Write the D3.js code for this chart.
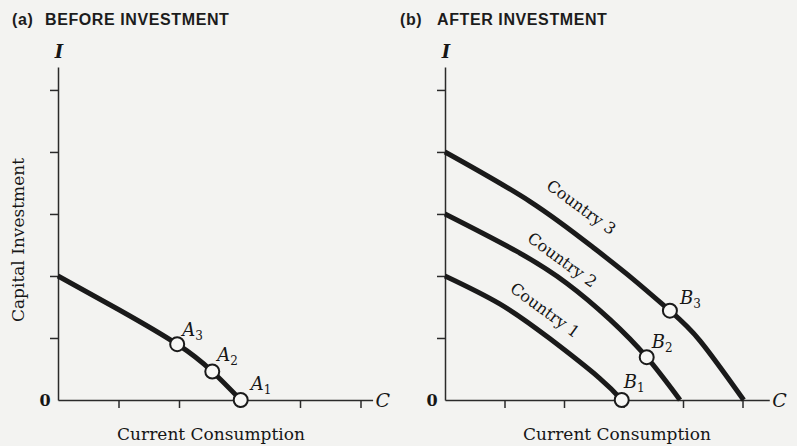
<!DOCTYPE html>
<meta charset="utf-8">
<style type="text/css">
body {
  margin: 0;
  background: #f3f3f1;
}

.title {
  font-family: "Liberation Sans", sans-serif;
  font-weight: bold;
  font-size: 16px;
  letter-spacing: 0.6px;
  fill: #1c1c1c;
}

.serif {
  font-family: "DejaVu Serif", serif;
  fill: #161616;
}

.axis path,
.axis line {
  fill: none;
  stroke: #2a2a2a;
  stroke-width: 1.5px;
}

.curve {
  fill: none;
  stroke: #1a1a1a;
  stroke-width: 5px;
}

.dot {
  fill: #f7f7f5;
  stroke: #1a1a1a;
  stroke-width: 2px;
}
</style>
<body>
</body>

<script src="https://cdn.jsdelivr.net/npm/d3@7"></script>
<script>
// tick values on both axes
var xTicks = [1, 2, 3, 4, 5];
var yTicks = [1, 2, 3, 4, 5];

// (a) before investment: one frontier
var beforeC = [0, 1.0, 1.97, 2.55, 3.02];
var beforeI = [2.0, 1.46, 0.9, 0.46, 0];

var aNames = ["1", "2", "3"];
var aC = [3.02, 2.55, 1.97];
var aI = [0, 0.46, 0.9];

// (b) after investment: one frontier per country
var country1C = [0, 0.92, 1.76, 2.6, 2.97];
var country1I = [2.0, 1.55, 0.99, 0.35, 0];
var country2C = [0, 1.2, 2.05, 2.77, 3.39, 3.95];
var country2I = [3.0, 2.4, 1.88, 1.3, 0.69, 0];
var country3C = [0, 1.43, 2.49, 3.16, 3.78, 4.29, 5.02];
var country3I = [4.0, 3.2, 2.46, 1.95, 1.44, 0.95, 0];

var bNames = ["1", "2", "3"];
var bC = [2.97, 3.39, 3.78];
var bI = [0, 0.69, 1.44];

var countryNames = ["Country 1", "Country 2", "Country 3"];

var width = 797;
var height = 446;

var svg = d3.select("body")
  .append("svg")
    .attr("width", width)
    .attr("height", height);

svg.append("rect")
  .attr("width", width)
  .attr("height", height)
  .attr("fill", "#f3f3f1");

var y = d3.scaleLinear()
  .domain([0, 5.37])
  .range([400, 67]);

var xLeft = d3.scaleLinear()
  .domain([0, 5.2])
  .range([58, 58 + 5.2 * 60.5]);

var xRight = d3.scaleLinear()
  .domain([0, 5.45])
  .range([445, 445 + 5.45 * 59.5]);

function zip(cs, is) {
  return cs.map(function(c, i) { return [c, is[i]]; });
}

function drawAxes(x, label) {
  var xAxis = d3.axisBottom(x)
    .tickValues(xTicks)
    .tickSize(8)
    .tickSizeOuter(0)
    .tickFormat("");

  var yAxis = d3.axisLeft(y)
    .tickValues(yTicks)
    .tickSize(8)
    .tickSizeOuter(0)
    .tickFormat("");

  svg.append("g")
    .attr("class", "x axis")
    .attr("transform", "translate(0," + y(0) + ")")
    .call(xAxis);

  svg.append("g")
    .attr("class", "y axis")
    .attr("transform", "translate(" + x(0) + ",0)")
    .call(yAxis);

  svg.append("text")
    .attr("class", "serif")
    .attr("x", x(0) - 13)
    .attr("y", y(0) + 6)
    .attr("text-anchor", "middle")
    .style("font-size", "16px")
    .style("font-weight", "bold")
    .text("0");

  svg.append("text")
    .attr("class", "serif")
    .attr("x", x(0) + 1)
    .attr("y", 58)
    .attr("text-anchor", "middle")
    .style("font-size", "18px")
    .style("font-style", "italic")
    .style("font-weight", "bold")
    .text("I");

  svg.append("text")
    .attr("class", "serif")
    .attr("x", x.range()[1] + 3)
    .attr("y", y(0) + 7)
    .style("font-size", "19px")
    .style("font-style", "italic")
    .text("C");

  svg.append("text")
    .attr("class", "serif")
    .attr("x", label)
    .attr("y", 440)
    .attr("text-anchor", "middle")
    .style("font-size", "17px")
    .text("Current Consumption");
}

function drawCurve(x, cs, is) {
  var line = d3.line()
    .x(function(d) { return x(d[0]); })
    .y(function(d) { return y(d[1]); })
    .curve(d3.curveNatural);

  svg.append("path")
    .attr("class", "curve")
    .attr("d", line(zip(cs, is)));
}

function drawPoints(x, letter, names, cs, is, offsets) {
  var g = svg.append("g");

  g.selectAll("circle")
    .data(names)
    .enter().append("circle")
    .attr("class", "dot")
    .attr("cx", function(d, i) { return x(cs[i]); })
    .attr("cy", function(d, i) { return y(is[i]); })
    .attr("r", 7);

  var t = g.selectAll("text")
    .data(names)
    .enter().append("text")
    .attr("class", "serif")
    .attr("x", function(d, i) { return x(cs[i]) + offsets[i][0]; })
    .attr("y", function(d, i) { return y(is[i]) + offsets[i][1]; })
    .style("font-size", "18px")
    .style("font-style", "italic");

  t.append("tspan").text(letter);
  t.append("tspan")
    .attr("dy", 4)
    .style("font-size", "12px")
    .style("font-style", "normal")
    .text(function(d) { return d; });
}

// titles
svg.append("text")
  .attr("class", "title")
  .attr("x", 12)
  .attr("y", 25)
  .text("(a)");
svg.append("text")
  .attr("class", "title")
  .attr("x", 45)
  .attr("y", 25)
  .text("BEFORE INVESTMENT");

svg.append("text")
  .attr("class", "title")
  .attr("x", 400)
  .attr("y", 25)
  .text("(b)");
svg.append("text")
  .attr("class", "title")
  .attr("x", 437)
  .attr("y", 25)
  .text("AFTER INVESTMENT");

svg.append("text")
  .attr("class", "serif")
  .attr("transform", "translate(24,240) rotate(-90)")
  .attr("text-anchor", "middle")
  .style("font-size", "17px")
  .text("Capital Investment");

// panel (a)
drawAxes(xLeft, 211);
drawCurve(xLeft, beforeC, beforeI);
drawPoints(xLeft, "A", aNames, aC, aI, [[10, -10], [5, -10], [5, -8]]);

// panel (b)
drawAxes(xRight, 617);
drawCurve(xRight, country1C, country1I);
drawCurve(xRight, country2C, country2I);
drawCurve(xRight, country3C, country3I);
drawPoints(xRight, "B", bNames, bC, bI, [[2, -12], [5, -9], [10, -7]]);

// curve labels, placed along each frontier
var labelAt = [[1.68, 1.45], [1.97, 2.26], [2.29, 3.11]];
svg.selectAll("text.country")
  .data(countryNames)
  .enter().append("text")
  .attr("class", "serif country")
  .attr("text-anchor", "middle")
  .attr("dy", "0.35em")
  .attr("transform", function(d, i) {
    return "translate(" + xRight(labelAt[i][0]) + "," + y(labelAt[i][1]) + ") rotate(36)";
  })
  .style("font-size", "16px")
  .text(function(d) { return d; });
</script>
